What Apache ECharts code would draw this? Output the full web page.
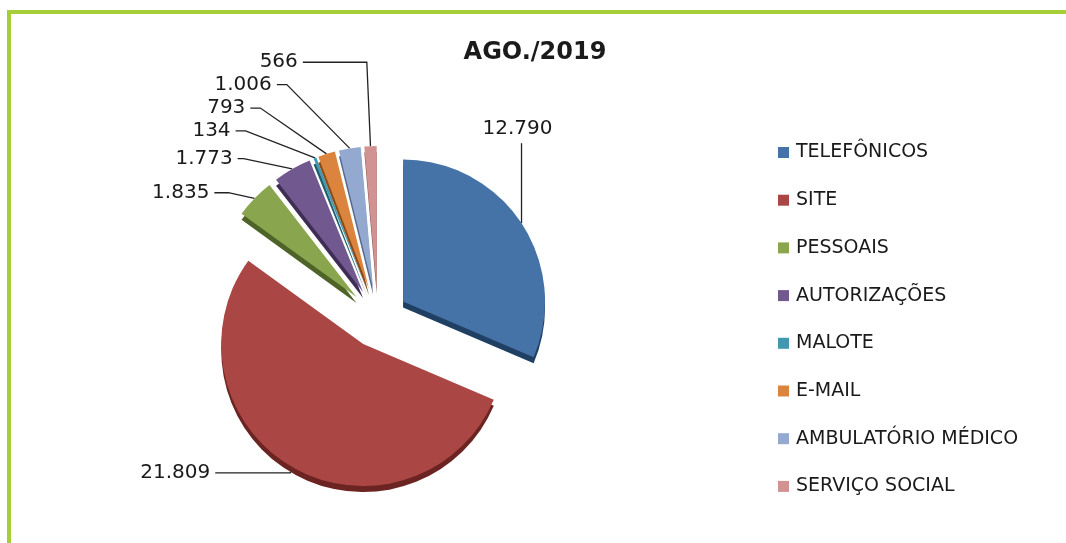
<!DOCTYPE html>
<html>
<head>
<meta charset="utf-8">
<title>AGO./2019</title>
<script src="https://cdn.jsdelivr.net/npm/echarts@6/dist/echarts.min.js"></script>
<style>
  html, body { margin: 0; padding: 0; background: #fff; }
  #main { width: 1066px; height: 543px; }
</style>
</head>
<body>
<div id="main"></div>
<script>
// dados do gráfico
var categorias = ['TELEFÔNICOS', 'SITE', 'PESSOAIS', 'AUTORIZAÇÕES', 'MALOTE', 'E-MAIL', 'AMBULATÓRIO MÉDICO', 'SERVIÇO SOCIAL'];
var valores = [12790, 21809, 1835, 1773, 134, 793, 1006, 566];
var cores = ['#4572A7', '#AA4643', '#89A54E', '#71588F', '#4198AF', '#DB843D', '#93A9CF', '#D19392'];
var coresEscuras = ['#1F3F63', '#6B2422', '#4E6328', '#3E2D55', '#1F5E6E', '#8A4A1A', '#56698C', '#8C5756'];
// comprimento das linhas-guia (estilo)
var linha1 = [10, 6, 8, 12, 36, 48, 68, 84];
var linha2 = [10, 75, 14, 6, 10, 10, 10, 64];

// 12790 -> "12.790"
function fmt(v) {
    return String(v).replace(/\B(?=(\d{3})+(?!\d))/g, '.');
}

var chartDom = document.getElementById('main');
var myChart = echarts.init(chartDom);
var option;

var dados = categorias.map(function (nome, i) {
    return {
        name: nome,
        value: valores[i],
        selected: true,
        itemStyle: {
            color: cores[i],
            shadowColor: coresEscuras[i],
            shadowBlur: 0,
            shadowOffsetY: 6
        },
        labelLine: { length: linha1[i], length2: linha2[i] }
    };
});

option = {
    animation: false,
    title: {
        text: 'AGO./2019',
        left: 530,
        top: 36,
        textAlign: 'center',
        textStyle: {
            fontFamily: 'DejaVu Sans',
            fontWeight: 'bold',
            fontSize: 24,
            color: '#1a1a1a'
        }
    },
    legend: {
        orient: 'vertical',
        left: 778,
        top: 143,
        padding: 0,
        icon: 'rect',
        itemWidth: 11,
        itemHeight: 11,
        itemGap: 28.7,
        selectedMode: false,
        data: categorias,
        textStyle: {
            fontFamily: 'DejaVu Sans',
            fontSize: 19,
            color: '#1a1a1a',
            padding: [0, 0, 0, 2]
        }
    },
    graphic: [
        {
            type: 'rect',
            shape: { x: 9, y: 12, width: 1200, height: 700 },
            style: { fill: 'none', stroke: '#A6CE39', lineWidth: 4 },
            silent: true
        }
    ],
    series: [
        {
            type: 'pie',
            center: [378, 318],
            radius: 142,
            startAngle: 90,
            clockwise: true,
            selectedMode: 'multiple',
            selectedOffset: 30,
            avoidLabelOverlap: true,
            label: {
                show: true,
                position: 'outside',
                formatter: function (p) { return fmt(p.value); },
                fontFamily: 'DejaVu Sans',
                fontSize: 20,
                color: '#1a1a1a'
            },
            labelLine: {
                show: true,
                lineStyle: { color: '#222', width: 1.3 }
            },
            // rótulo de TELEFÔNICOS acima da fatia, com linha vertical
            labelLayout: function (params) {
                if (params.dataIndex !== 0 || !params.labelLinePoints) {
                    return {};
                }
                var p0 = params.labelLinePoints[0];
                var r = params.labelRect;
                return {
                    dx: (p0[0] - 4) - (r.x + r.width / 2),
                    dy: (p0[1] - 84) - (r.y + r.height),
                    labelLinePoints: [p0, [p0[0], p0[1] - 80], [p0[0], p0[1] - 80]]
                };
            },
            emphasis: { disabled: true },
            data: dados
        }
    ]
};

option && myChart.setOption(option);
</script>
</body>
</html>
